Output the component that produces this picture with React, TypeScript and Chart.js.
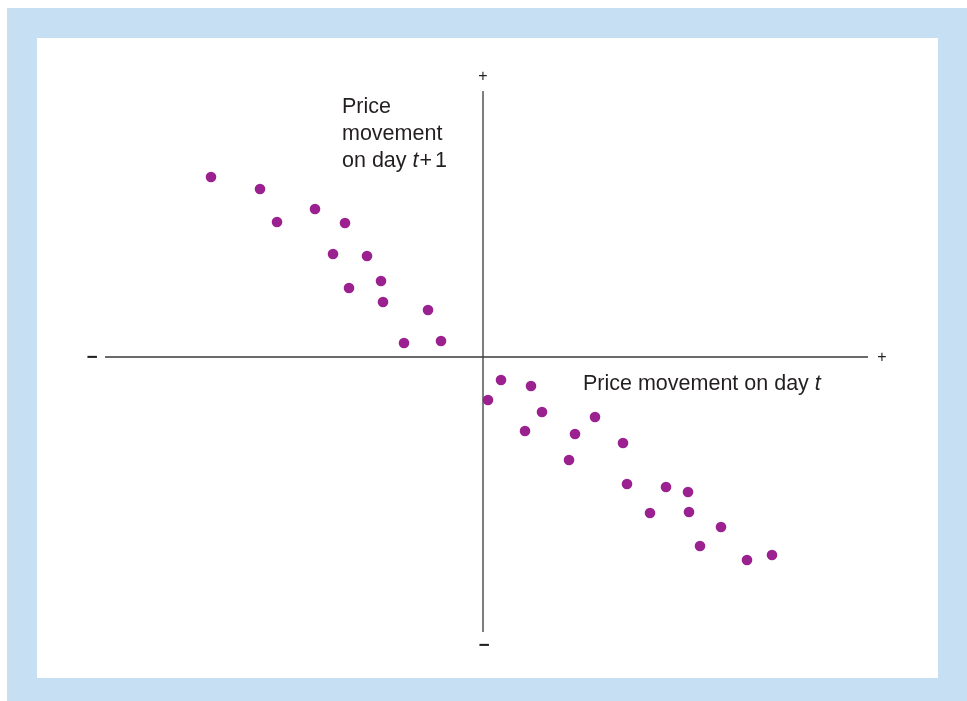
import React, { useEffect, useRef } from "react";
import { Chart, registerables } from "chart.js";

Chart.register(...registerables);

// Price movement on day t (x) vs day t+1 (y), arbitrary units
const dayT: number[] = [
  -27.2, -22.3, -16.8, -20.6, -13.8, -15.0, -11.6, -10.2, -13.4, -10.0, -5.5, -7.9, -4.2,
  1.8, 4.8, 0.5, 5.9, 11.2, 4.2, 9.2, 14.0, 8.6, 14.4, 18.3, 20.5, 16.7, 20.6, 23.8, 21.7, 26.4, 28.9,
];
const dayT1: number[] = [
  18.0, 16.8, 14.8, 13.5, 13.4, 10.3, 10.1, 7.6, 6.9, 5.5, 4.7, 1.4, 1.6,
  -2.3, -2.9, -4.3, -5.5, -6.0, -7.4, -7.7, -8.6, -10.3, -12.7, -13.0, -13.5, -15.6, -15.5, -17.0, -18.9, -20.3, -19.8,
];

const xAxisTitle = "Price movement on day ";
const yAxisTitleLines = ["Price", "movement", "on day "];
const plusLabel = "+";
const minusLabel = "\u2212";

const TEXT = "#231f20";
const FONT = '"Liberation Sans", Arial, sans-serif';

const axesPlugin = {
  id: "crossAxes",
  beforeDatasetsDraw(chart: any) {
    const ctx = chart.ctx;
    const xs = chart.scales.x;
    const ys = chart.scales.y;
    const x0 = xs.getPixelForValue(0);
    const y0 = ys.getPixelForValue(0);
    ctx.save();
    ctx.strokeStyle = "#3a3a3a";
    ctx.lineWidth = 1.3;
    ctx.beginPath();
    ctx.moveTo(xs.getPixelForValue(-37.8), y0);
    ctx.lineTo(xs.getPixelForValue(38.5), y0);
    ctx.moveTo(x0, ys.getPixelForValue(26.6));
    ctx.lineTo(x0, ys.getPixelForValue(-27.5));
    ctx.stroke();

    // end signs
    ctx.fillStyle = TEXT;
    ctx.textAlign = "center";
    ctx.textBaseline = "middle";
    ctx.font = `16px ${FONT}`;
    ctx.fillText(plusLabel, xs.getPixelForValue(39.9), y0 + 1);
    ctx.fillText(plusLabel, x0, ys.getPixelForValue(28.0));
    ctx.font = `bold 19px ${FONT}`;
    ctx.fillText(minusLabel, xs.getPixelForValue(-39.1), y0 + 1);
    ctx.fillText(minusLabel, x0 + 1, ys.getPixelForValue(-28.9));

    // titles
    ctx.textAlign = "left";
    ctx.textBaseline = "alphabetic";
    const normal = `21.5px ${FONT}`;
    const italic = `italic 21.5px ${FONT}`;

    // x title
    let tx = xs.getPixelForValue(10.0);
    const tyX = ys.getPixelForValue(-3.3);
    ctx.font = normal;
    ctx.fillText(xAxisTitle, tx, tyX);
    tx += ctx.measureText(xAxisTitle).width;
    ctx.font = italic;
    ctx.fillText("t", tx, tyX);

    // y title
    const lx = xs.getPixelForValue(-14.1);
    const baseY = ys.getPixelForValue(24.4);
    yAxisTitleLines.forEach((line, i) => {
      ctx.font = normal;
      ctx.fillText(line, lx, baseY + i * 27);
    });
    let px = lx;
    const py = baseY + 2 * 27;
    ctx.font = normal;
    px += ctx.measureText(yAxisTitleLines[2]).width;
    ctx.font = italic;
    ctx.fillText("t", px, py);
    px += ctx.measureText("t").width + 1;
    ctx.font = normal;
    ctx.fillText("+", px, py);
    px += ctx.measureText("+").width + 3;
    ctx.fillText("1", px, py);
    ctx.restore();
  },
};

export default function App() {
  const ref = useRef<HTMLCanvasElement | null>(null);
  useEffect(() => {
    if (!ref.current) return;
    const chart = new Chart(ref.current, {
      type: "scatter",
      data: {
        datasets: [
          {
            data: dayT.map((x, i) => ({ x, y: dayT1[i] })),
            backgroundColor: "#9c2190",
            borderColor: "#9c2190",
            borderWidth: 0,
            pointRadius: 5.3,
            pointHoverRadius: 5.3,
          },
        ],
      },
      options: {
        animation: false,
        responsive: false,
        maintainAspectRatio: false,
        layout: { padding: 0, autoPadding: false },
        plugins: { legend: { display: false }, tooltip: { enabled: false } },
        scales: {
          x: { type: "linear", min: -44.6, max: 45.5, display: false },
          y: { type: "linear", min: -32.1, max: 31.9, display: false },
        },
      },
      plugins: [axesPlugin],
    });
    return () => chart.destroy();
  }, []);

  return (
    <div
      style={{
        position: "absolute",
        left: 7,
        top: 8,
        width: 960,
        height: 693,
        background: "#c7dff3",
      }}
    >
      <div
        style={{
          position: "absolute",
          left: 30,
          top: 30,
          width: 901,
          height: 640,
          background: "#ffffff",
        }}
      >
        <canvas ref={ref} width={901} height={640} style={{ display: "block" }} />
      </div>
    </div>
  );
}
